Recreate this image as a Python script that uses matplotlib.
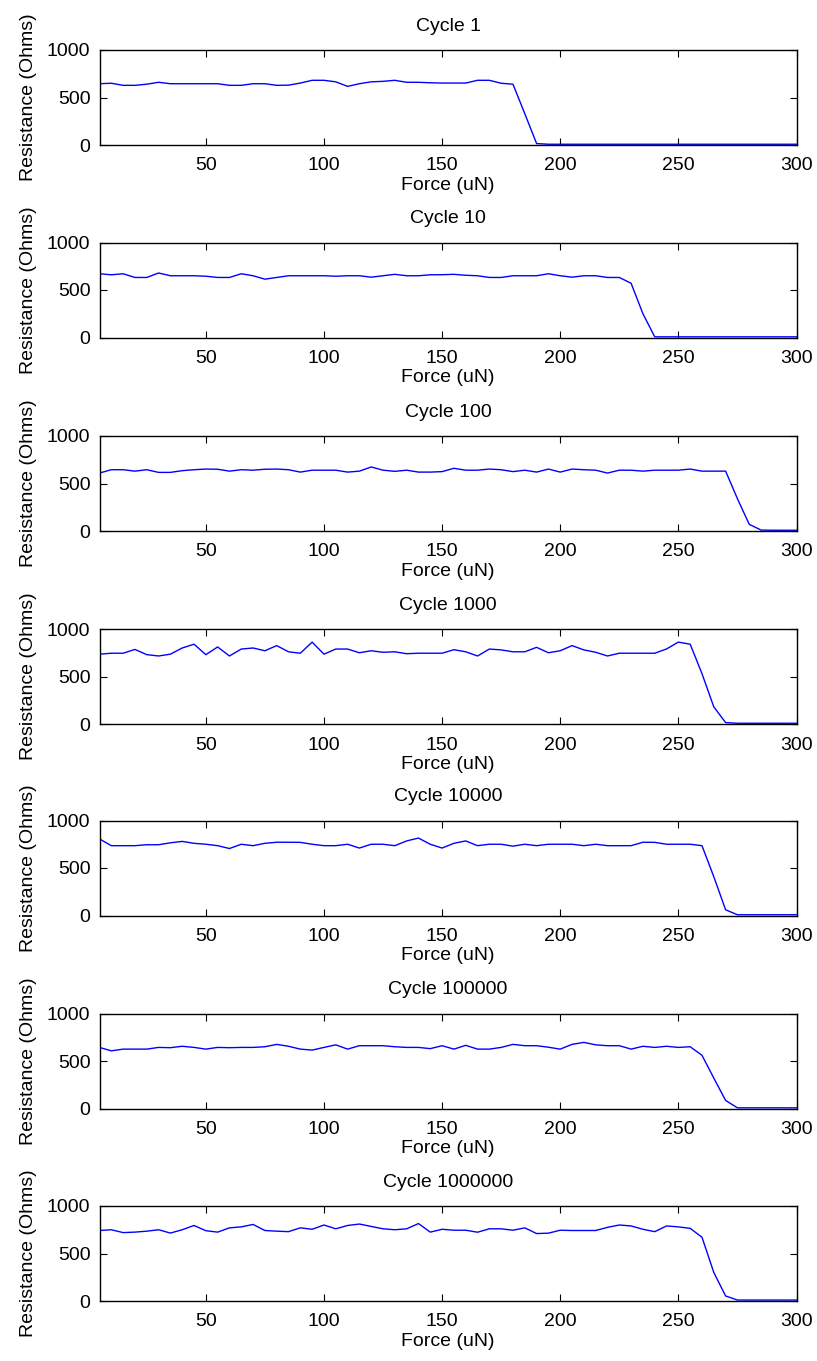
import numpy as np
import matplotlib
matplotlib.use("Agg")
import matplotlib.pyplot as plt

plt.rcParams["font.family"] = ["Liberation Sans", "DejaVu Sans"]
plt.rcParams["font.size"] = 14

# Applied force (uN), sampled every 5 uN
force = np.arange(5, 301, 5)

cycle_titles = ["Cycle 1", "Cycle 10", "Cycle 100", "Cycle 1000",
                "Cycle 10000", "Cycle 100000", "Cycle 1000000"]

res_c1 = [645, 650, 628, 628, 640, 660, 645, 645, 645, 645,
          645, 628, 628, 645, 645, 628, 630, 652, 681, 681,
          665, 617, 645, 665, 670, 681, 660, 660, 655, 652,
          652, 652, 681, 681, 650, 640, 330, 15, 8, 8,
          8, 8, 8, 8, 8, 8, 8, 8, 8, 8,
          8, 8, 8, 8, 8, 8, 8, 8, 8, 8]

res_c10 = [671, 660, 671, 632, 632, 679, 650, 650, 650, 645,
           632, 632, 671, 650, 614, 632, 650, 650, 650, 650,
           645, 650, 650, 635, 650, 665, 650, 650, 660, 661,
           665, 655, 650, 632, 632, 650, 650, 650, 671, 650,
           635, 650, 650, 632, 632, 571, 250, 7, 7, 7,
           7, 7, 7, 7, 7, 7, 7, 7, 7, 7]

res_c100 = [610, 645, 645, 630, 645, 617, 617, 635, 645, 652,
            650, 630, 645, 640, 650, 652, 645, 620, 640, 640,
            640, 620, 630, 674, 640, 628, 640, 620, 620, 625,
            660, 640, 640, 652, 645, 625, 640, 620, 652, 620,
            652, 645, 640, 610, 640, 640, 630, 640, 640, 640,
            652, 630, 630, 630, 340, 70, 10, 8, 8, 8]

res_c1000 = [735, 745, 745, 785, 730, 716, 735, 800, 840, 730,
             811, 716, 789, 800, 771, 825, 760, 745, 862, 735,
             789, 789, 750, 771, 755, 760, 740, 745, 745, 745,
             782, 760, 716, 789, 780, 760, 760, 807, 750, 771,
             825, 780, 755, 716, 745, 745, 745, 745, 790, 862,
             840, 530, 180, 15, 8, 8, 8, 8, 8, 8]

res_c10000 = [806, 735, 735, 735, 745, 745, 765, 780, 760, 750,
              735, 705, 750, 735, 760, 771, 771, 770, 750, 735,
              735, 750, 710, 750, 750, 735, 785, 815, 750, 710,
              760, 785, 735, 750, 750, 730, 750, 735, 750, 750,
              750, 735, 750, 735, 735, 735, 771, 770, 750, 750,
              750, 735, 408, 60, 8, 8, 8, 8, 8, 8]

res_c100000 = [643, 607, 625, 625, 625, 643, 640, 655, 643, 625,
               643, 640, 643, 643, 650, 675, 655, 625, 615, 643,
               670, 625, 661, 661, 661, 650, 643, 643, 630, 661,
               625, 665, 625, 625, 643, 675, 661, 661, 645, 625,
               675, 696, 670, 661, 661, 625, 655, 643, 655, 643,
               650, 560, 320, 85, 7, 7, 7, 7, 7, 7]

res_c1000000 = [742, 750, 720, 725, 735, 750, 715, 750, 795, 740,
                725, 770, 780, 806, 742, 735, 730, 770, 755, 800,
                760, 795, 810, 785, 760, 750, 760, 815, 725, 755,
                745, 745, 724, 760, 760, 745, 770, 710, 714, 745,
                742, 742, 742, 775, 800, 790, 755, 730, 790, 780,
                765, 671, 300, 53, 10, 10, 10, 10, 10, 10]

series = [res_c1, res_c10, res_c100, res_c1000,
          res_c10000, res_c100000, res_c1000000]

xticks = [50, 100, 150, 200, 250, 300]
yticks = [0, 500, 1000]

W, H = 817, 1361
fig = plt.figure(figsize=(W / 100, H / 100), dpi=100)
fig.patch.set_facecolor("white")

left_px, right_px = 99.5, 796.5
panel_h = 95
tops = [50, 242.5, 436, 629, 820.5, 1013.5, 1206]

for top, title, res in zip(tops, cycle_titles, series):
    ax = fig.add_axes([left_px / W, 1 - (top + panel_h) / H,
                       (right_px - left_px) / W, panel_h / H])
    ax.plot(force, res, color="#0000ff", linewidth=1.0)
    ax.set_xlim(5, 300)
    ax.set_ylim(0, 1000)
    ax.set_xticks(xticks)
    ax.set_yticks(yticks)
    ax.tick_params(direction="in", length=5, width=0.8, top=True,
                   right=True, labelsize=14, colors="black")
    ax.tick_params(axis="x", pad=9)
    ax.tick_params(axis="y", pad=6.5)
    for sp in ax.spines.values():
        sp.set_linewidth(1.0)
        sp.set_color("black")
    ax.set_title(title, fontsize=14, pad=14)
    ax.set_xlabel("Force (uN)", fontsize=14, labelpad=1.5)
    ax.set_ylabel("Resistance (Ohms)", fontsize=14, labelpad=7)

fig.savefig("out.png", dpi=100, facecolor="white")
